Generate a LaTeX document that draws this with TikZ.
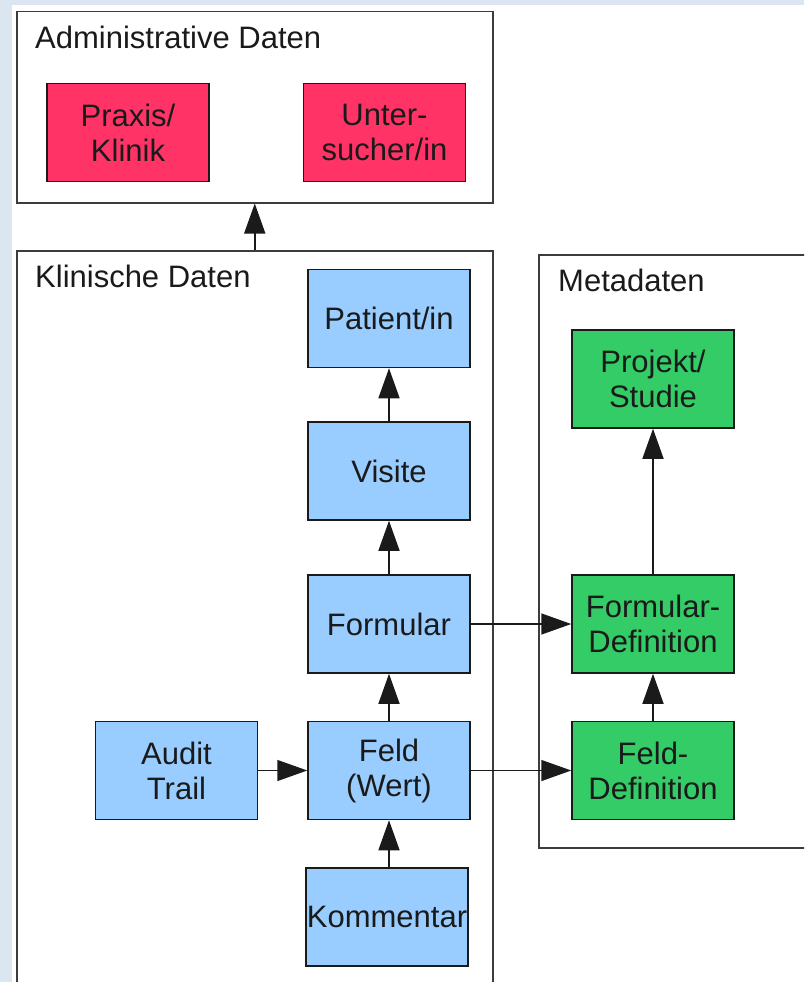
\documentclass[tikz,border=0pt]{standalone}
\usepackage{fontspec}
\setmainfont{Liberation Sans}
\usetikzlibrary{arrows.meta}
\definecolor{pagebg}{HTML}{DCE6F0}
\definecolor{adminred}{HTML}{FF3366}
\definecolor{clinblue}{HTML}{99CCFF}
\definecolor{metagreen}{HTML}{33CC66}
\definecolor{ink}{HTML}{1A1A1A}
\tikzset{
  entity/.style={draw=ink, line width=1.5pt, minimum width=162pt, minimum height=98pt,
    inner sep=0pt, align=center, text=ink,
    font=\fontsize{31}{35}\selectfont},
  admin/.style={entity, fill=adminred},
  clin/.style={entity, fill=clinblue},
  meta/.style={entity, fill=metagreen},
  group/.style={draw=ink!85, line width=1.5pt, fill=white, inner sep=0pt, anchor=north west},
  grouplabel/.style={anchor=base west, inner sep=0pt, text=ink,
    font=\fontsize{31}{35}\selectfont},
  link/.style={draw=ink, line width=1.5pt, -{Triangle[length=30pt,width=21pt]}},
}
\begin{document}
\begin{tikzpicture}[x=1pt, y=-1pt]
  \clip (0,0) rectangle (804,982);
  \fill[pagebg] (0,0) rectangle (804,982);
  \fill[white] (12,5) rectangle (804,982);

  % group frames
  \node[group, minimum width=476pt, minimum height=191pt] (adminbox) at (16,11) {};
  \node[group, minimum width=476pt, minimum height=760pt] (klinbox) at (16,250) {};
  \node[group, minimum width=300pt, minimum height=593pt] (metabox) at (538,254) {};

  \node[grouplabel] (adminlbl) at (35,48.5) {Administrative Daten};
  \node[grouplabel] (klinlbl) at (35,287.5) {Klinische Daten};
  \node[grouplabel] (metalbl) at (558,291.5) {Metadaten};

  % administrative entities
  \node[admin] (praxis) at (128,132.5) {Praxis/\\Klinik};
  \node[admin] (unters) at (384.5,132.5) {Unter-\\sucher/in};

  % clinical entities
  \node[clin] (patient) at (389,318.5) {Patient/in};
  \node[clin] (visite) at (389,471) {Visite};
  \node[clin] (formular) at (389,624) {Formular};
  \node[clin] (feld) at (389,770.5) {Feld\\(Wert)};
  \node[clin] (audit) at (176.5,770.5) {Audit\\Trail};
  \node[clin] (komm) at (387,917) {Kommentar};

  % metadata entities
  \node[meta] (projekt) at (653,379) {Projekt/\\Studie};
  \node[meta] (formdef) at (653,624) {Formular-\\Definition};
  \node[meta] (felddef) at (653,770.5) {Feld-\\Definition};

  % relations
  \draw[link] (klinbox.north) -- (adminbox.south);
  \draw[link] (visite) -- (patient);
  \draw[link] (formular) -- (visite);
  \draw[link] (feld) -- (formular);
  \draw[link] (komm.north -| feld) -- (feld);
  \draw[link] (audit) -- (feld);
  \draw[link] (formular) -- (formdef);
  \draw[link] (feld) -- (felddef);
  \draw[link] (formdef) -- (projekt);
  \draw[link] (felddef) -- (formdef);
\end{tikzpicture}
\end{document}
